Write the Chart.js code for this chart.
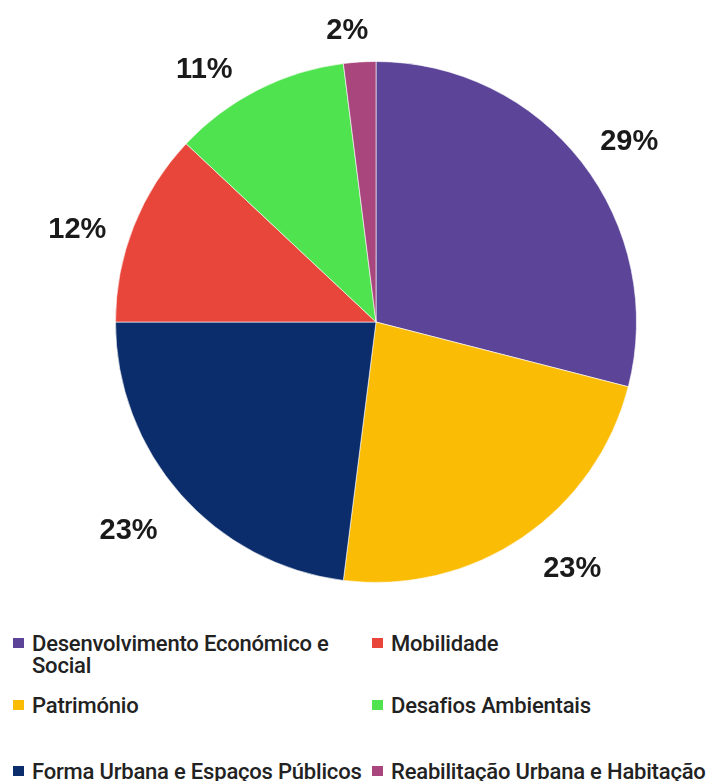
<!DOCTYPE html>
<html lang="pt">
<head>
<meta charset="utf-8">
<title>Temas</title>
<script src="https://cdn.jsdelivr.net/npm/chart.js@4.4.1/dist/chart.umd.min.js"></script>
<style>
  html, body { margin: 0; padding: 0; background: #ffffff; }
  #wrap { position: relative; width: 716px; height: 781px; overflow: hidden; }
  #pie { position: absolute; left: 0; top: 0; }
  .item { position: absolute; font-family: Roboto, "Liberation Sans", sans-serif; font-size: 22px;
          font-weight: 500; line-height: 22px; color: #222222; width: 368px; letter-spacing: -0.2px; }
  .item .sw { position: absolute; left: 0; top: 5.5px; width: 11px; height: 10px; }
  .item .tx { display: block; margin-left: 19px; }
</style>
</head>
<body>
<div id="wrap">
  <canvas id="pie" width="716" height="620"></canvas>
  <div id="legend"></div>
</div>
<script>
// Themes, in slice order (clockwise from 12 o'clock)
const categories = [
  'Desenvolvimento Económico e Social',
  'Património',
  'Forma Urbana e Espaços Públicos',
  'Mobilidade',
  'Desafios Ambientais',
  'Reabilitação Urbana e Habitação'
];
// Share of each theme, in percent
const shares = [29, 23, 23, 12, 11, 2];
const sliceColors = ['#5C4599', '#FBBC05', '#0C2D6B', '#E8463B', '#50E350', '#A8467D'];

// Small angular / radial adjustments for the outside percentage labels
const labelAngleShift = [2, -4.5, 1.5, -4, -7, -2];   // degrees
const labelRadiusShift = [0, 5, 11, 0, 0, 0];        // px

const labelFont = 'bold 29px "Liberation Sans", Arial, sans-serif';

const outsideLabels = {
  id: 'outsideLabels',
  afterDatasetsDraw(chart) {
    const ctx = chart.ctx;
    const meta = chart.getDatasetMeta(0);
    const ds = chart.data.datasets[0];
    ctx.save();
    ctx.font = labelFont;
    ctx.fillStyle = '#1a1a1a';
    ctx.textAlign = 'center';
    ctx.textBaseline = 'alphabetic';
    const digitH = 21;
    meta.data.forEach((arc, i) => {
      const p = arc.getProps(['x', 'y', 'startAngle', 'endAngle', 'outerRadius'], true);
      const a = (p.startAngle + p.endAngle) / 2 + labelAngleShift[i] * Math.PI / 180;
      const text = ds.data[i] + '%';
      const w = ctx.measureText(text).width;
      const c = Math.cos(a), s = Math.sin(a);
      const extent = (w / 2) * Math.abs(c) + (digitH / 2) * Math.abs(s);
      const r = p.outerRadius + 22 + extent + labelRadiusShift[i];
      const lx = p.x + r * c;
      const ly = p.y + r * s;
      ctx.fillText(text, lx, ly + digitH / 2);
    });
    ctx.restore();
  }
};

new Chart(document.getElementById('pie'), {
  type: 'pie',
  data: {
    labels: categories,
    datasets: [{
      data: shares,
      backgroundColor: sliceColors,
      borderColor: 'rgba(255,255,255,0.6)',
      borderWidth: 1
    }]
  },
  options: {
    responsive: false,
    animation: false,
    layout: { padding: { left: 114, right: 78, top: 61, bottom: 37 } },
    plugins: {
      legend: { display: false },
      tooltip: { enabled: false }
    }
  },
  plugins: [outsideLabels]
});

// Legend: two columns, filled column by column
const legend = document.getElementById('legend');
const rows = Math.ceil(categories.length / 2);
const colLeft = [13, 372];
const rowTop = [632.5, 694.5, 760.5];
categories.forEach((name, i) => {
  const col = Math.floor(i / rows);
  const row = i % rows;
  const item = document.createElement('div');
  item.className = 'item';
  item.style.left = colLeft[col] + 'px';
  item.style.top = rowTop[row] + 'px';
  const sw = document.createElement('span');
  sw.className = 'sw';
  sw.style.background = sliceColors[i];
  const tx = document.createElement('span');
  tx.className = 'tx';
  tx.textContent = name;
  item.appendChild(sw);
  item.appendChild(tx);
  legend.appendChild(item);
});
</script>
</body>
</html>
